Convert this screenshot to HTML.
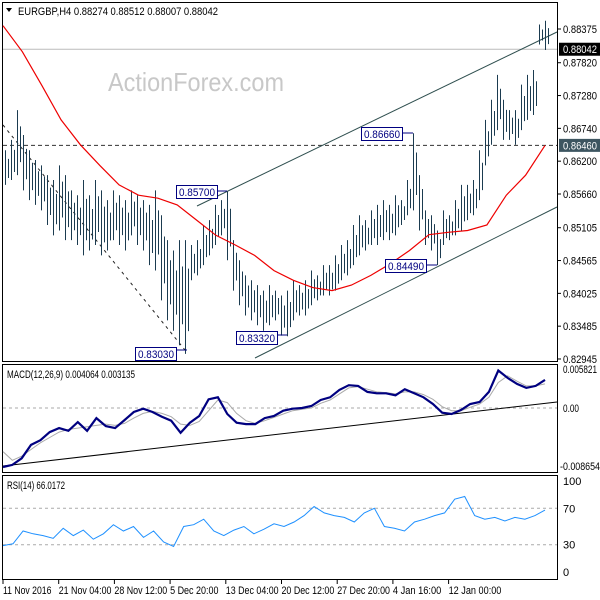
<!DOCTYPE html>
<html><head><meta charset="utf-8"><style>
html,body{margin:0;padding:0;background:#fff;}
svg{display:block;font-family:"Liberation Sans",sans-serif;}
</style></head><body>
<svg id="c" width="600" height="600" xmlns="http://www.w3.org/2000/svg"></svg>
<script>
// ---- data ----
const barHigh=[0.8638,0.8655,0.8704,0.8663,0.8638,0.8622,0.8613,0.8597,0.8589,0.8613,0.8597,0.8572,0.8564,0.8589,0.8564,0.8589,0.8572,0.8556,0.8572,0.8564,0.8556,0.8572,0.8564,0.8556,0.8548,0.8572,0.8531,0.8490,0.8473,0.8490,0.8490,0.8482,0.8490,0.8515,0.8523,0.8548,0.8556,0.8570,0.8490,0.8457,0.8432,0.8424,0.8416,0.8407,0.8416,0.8407,0.8399,0.8407,0.8424,0.8416,0.8424,0.8440,0.8432,0.8449,0.8449,0.8465,0.8482,0.8490,0.8515,0.8531,0.8523,0.8539,0.8548,0.8556,0.8548,0.8564,0.8556,0.8589,0.8666,0.8597,0.8539,0.8531,0.8506,0.8539,0.8531,0.8556,0.8581,0.8581,0.8589,0.8638,0.8688,0.8721,0.8762,0.8721,0.8704,0.8704,0.8746,0.8762,0.8770,0.8845,0.8851];
const barLow=[0.8581,0.8589,0.8597,0.8572,0.8556,0.8548,0.8539,0.8515,0.8498,0.8506,0.8490,0.8490,0.8482,0.8465,0.8473,0.8482,0.8465,0.8473,0.8490,0.8482,0.8473,0.8498,0.8482,0.8473,0.8449,0.8440,0.8391,0.8358,0.8341,0.8317,0.8303,0.8424,0.8432,0.8449,0.8465,0.8482,0.8498,0.8457,0.8407,0.8383,0.8366,0.8358,0.8350,0.8341,0.8350,0.8358,0.8333,0.8332,0.8358,0.8366,0.8366,0.8383,0.8391,0.8399,0.8399,0.8407,0.8424,0.8432,0.8449,0.8465,0.8473,0.8482,0.8482,0.8490,0.8490,0.8498,0.8515,0.8531,0.8539,0.8506,0.8482,0.8473,0.8449,0.8482,0.8490,0.8498,0.8506,0.8523,0.8531,0.8556,0.8613,0.8647,0.8671,0.8655,0.8655,0.8647,0.8671,0.8688,0.8696,0.8812,0.8803];
const maValues=[0.8843,0.8800,0.8745,0.8688,0.8647,0.8613,0.8581,0.8564,0.8559,0.8548,0.8523,0.8498,0.8482,0.8465,0.8440,0.8424,0.8412,0.8407,0.8416,0.8432,0.8451,0.8473,0.8499,0.8503,0.8506,0.8515,0.8564,0.8597,0.8646];
const macdValues=[-8.8,-8.5,-7.5,-5.5,-4.8,-3.6,-3.0,-3.4,-2.1,-3.4,-1.5,-2.7,-3.0,-1.8,-0.6,-0.1,-0.6,-1.3,-1.9,-3.7,-2.2,-1.2,1.3,1.6,-0.9,-2.2,-2.4,-2.4,-1.5,-1.2,-0.4,-0.1,0.0,0.3,1.2,1.6,2.7,3.4,3.3,2.4,2.2,2.2,1.9,2.8,2.2,1.6,0.6,-0.7,-0.9,-0.3,0.6,0.9,2.4,5.6,4.5,3.6,3.0,3.3,4.2];
const signalValues=[-6.5,-7.8,-7.2,-6.2,-5.2,-4.4,-3.6,-3.2,-3.0,-2.8,-2.6,-2.4,-2.6,-2.3,-1.5,-0.8,-0.5,-0.8,-1.3,-2.4,-2.6,-2.0,-0.4,1.2,0.8,-0.8,-1.9,-2.3,-1.9,-1.4,-0.9,-0.4,-0.2,0.0,0.7,1.2,2.1,3.0,3.2,2.8,2.4,2.3,2.1,2.4,2.4,2.0,1.3,0.2,-0.4,-0.4,0.1,0.6,1.6,3.8,4.8,4.0,3.3,3.3,3.6];
const rsiValues=[29,31,45,42,40,37,48,40,46,36,42,52,45,50,38,45,33,28,50,52,58,45,40,46,50,42,47,53,50,55,62,72,65,62,60,55,65,70,50,48,45,55,58,62,65,80,83,62,58,60,56,60,58,62,68];
const priceTicks=[0.88375,0.87820,0.87280,0.86740,0.86200,0.85660,0.85105,0.84565,0.84025,0.83485,0.82945];
const timeLabels=["11 Nov 2016","21 Nov 04:00","28 Nov 12:00","5 Dec 20:00","13 Dec 04:00","20 Dec 12:00","27 Dec 20:00","4 Jan 16:00","12 Jan 00:00"];
const rsiTicks=[100,70,30,0];

// ---- scales ----
const NS="http://www.w3.org/2000/svg";
const svg=document.getElementById('c');
function el(tag,attrs,parent){const e=document.createElementNS(NS,tag);for(const k in attrs)e.setAttribute(k,attrs[k]);(parent||svg).appendChild(e);return e;}
const yP=p=>29+(0.88375-p)*6077;
const xBar=i=>5+i*6;
const yM=v=>408-v*6.7;
const yR=v=>572-v*0.91;
const xStep=(n,i)=>3+i*(542/(n-1));
const tw=s=>(s.length*4.4).toFixed(1);

// panels
let r;
r=el('rect',{x:2.5,y:2.5,width:555,height:359,fill:'none',stroke:'#000'});

r=el('rect',{x:2.5,y:364.5,width:555,height:108,fill:'none',stroke:'#000'});

r=el('rect',{x:2.5,y:475.5,width:555,height:104,fill:'none',stroke:'#000'});


// watermark
let t=el('text',{x:108,y:91,'font-size':26,fill:'#c8c8c8',textLength:176,lengthAdjust:'spacingAndGlyphs'});t.textContent='ActionForex.com';


// header
t=el('text',{x:18,y:15,'font-size':11,fill:'#000',textLength:200,lengthAdjust:'spacingAndGlyphs'});t.textContent='EURGBP,H4  0.88274 0.88512 0.88007 0.88042';

let tri=el('path',{d:'M6 8 L12 8 L9 12 Z',fill:'#000'});


// horizontal lines
let l=el('line',{x1:3,x2:557,y1:yP(0.88042),y2:yP(0.88042),stroke:'#bbb'});

l=el('line',{x1:3,x2:557,y1:yP(0.8646),y2:yP(0.8646),stroke:'#333','stroke-dasharray':'4,3'});


// trend lines
l=el('line',{x1:197,y1:206,x2:557,y2:32,stroke:'#2f4f4f'});

l=el('line',{x1:255,y1:358,x2:557,y2:207,stroke:'#2f4f4f'});

l=el('line',{x1:3,y1:125,x2:185,y2:350,stroke:'#222','stroke-dasharray':'3,4'});


// bars
for(let i=0;i<barHigh.length;i++){
  const x=Math.round(xBar(i))+0.5,h=yP(barHigh[i]),lo=yP(barLow[i]);
  const b=el('line',{x1:x,x2:x,y1:h,y2:lo,stroke:'#1b3b50','stroke-width':1});
  
  
  const b2=el('line',{x1:x+3,x2:x+3,y1:h+(lo-h)*0.25,y2:lo-(lo-h)*0.2,stroke:'#1b3b50','stroke-width':1});
  
  
}

// MA
let pts=maValues.map((v,i)=>xStep(maValues.length,i).toFixed(1)+','+yP(v).toFixed(1)).join(' ');
let pl=el('polyline',{points:pts,fill:'none',stroke:'#e00','stroke-width':1.2});


// annotations
const notes=[["0.85700",176,185,227,191],["0.83030",135,347,187,350],["0.83320",236,331,287,335],["0.86660",361,127,413,133],["0.84490",385,259,437,265]];
notes.forEach(n=>{
  const g=el('g',{});
  
  el('line',{x1:n[1]+42,y1:n[4],x2:n[3],y2:n[4],stroke:'#000080'},g);
  el('rect',{x:n[1]+0.5,y:n[2]+0.5,width:41,height:13,fill:'#fff',stroke:'#000080'},g);
  const tt=el('text',{x:n[1]+3,y:n[2]+11,'font-size':11,fill:'#000080',textLength:36,lengthAdjust:'spacingAndGlyphs'},g);tt.textContent=n[0];
});

// price axis
priceTicks.forEach(p=>{
  const y=yP(p);
  el('line',{x1:557,x2:561,y1:y,y2:y,stroke:'#000'});
  const tt=el('text',{x:563,y:y+4,'font-size':11,fill:'#000',textLength:34,lengthAdjust:'spacingAndGlyphs'});tt.textContent=p.toFixed(5);
  
});
[[0.88042,'#000'],[0.8646,'#3d5560']].forEach(a=>{
  const y=yP(a[0]);
  const g=el('g',{});
  el('rect',{x:559,y:y-6.5,width:41,height:13,fill:a[1]},g);
  const tt=el('text',{x:563,y:y+4,'font-size':11,fill:'#fff',textLength:34,lengthAdjust:'spacingAndGlyphs'},g);tt.textContent=a[0].toFixed(5);
});

// MACD
l=el('line',{x1:3,x2:557,y1:yM(0),y2:yM(0),stroke:'#aaa','stroke-dasharray':'3,3'});

l=el('line',{x1:3,y1:466,x2:557,y2:402,stroke:'#000'});

pts=signalValues.map((v,i)=>xStep(signalValues.length,i).toFixed(1)+','+yM(v).toFixed(1)).join(' ');
pl=el('polyline',{points:pts,fill:'none',stroke:'#aaa','stroke-width':1});

pts=macdValues.map((v,i)=>xStep(macdValues.length,i).toFixed(1)+','+yM(v).toFixed(1)).join(' ');
pl=el('polyline',{points:pts,fill:'none',stroke:'#000080','stroke-width':2.2});

t=el('text',{x:7,y:378,'font-size':11,fill:'#000',textLength:128,lengthAdjust:'spacingAndGlyphs'});t.textContent='MACD(12,26,9) 0.004064 0.003135';

[['0.005821',373,563,34],['0.00',412,563,16],['-0.008654',470,560,40]].forEach(a=>{
  const tt=el('text',{x:a[2],y:a[1],'font-size':11,fill:'#000',textLength:a[3],lengthAdjust:'spacingAndGlyphs'});tt.textContent=a[0];
  
});

// RSI
[70,30].forEach(v=>{const g=el('line',{x1:3,x2:557,y1:yR(v),y2:yR(v),stroke:'#aaa','stroke-dasharray':'3,3'});
});
pts=rsiValues.map((v,i)=>xStep(rsiValues.length,i).toFixed(1)+','+yR(v).toFixed(1)).join(' ');
pl=el('polyline',{points:pts,fill:'none',stroke:'#1e90ff','stroke-width':1});

t=el('text',{x:7,y:489,'font-size':11,fill:'#000',textLength:58,lengthAdjust:'spacingAndGlyphs'});t.textContent='RSI(14) 66.0172';

rsiTicks.forEach(v=>{
  const tt=el('text',{x:563,y:yR(v)+4,'font-size':11,fill:'#000'});tt.textContent=String(v);
  
});

// time axis
timeLabels.forEach((s,i)=>{
  const x=3+i*55.7;
  el('line',{x1:x,x2:x,y1:580,y2:584,stroke:'#000'});
  const tt=el('text',{x:x,y:594,'font-size':11,fill:'#000',textLength:tw(s),lengthAdjust:'spacingAndGlyphs'});tt.textContent=s;
  
});
</script>
</body></html>
